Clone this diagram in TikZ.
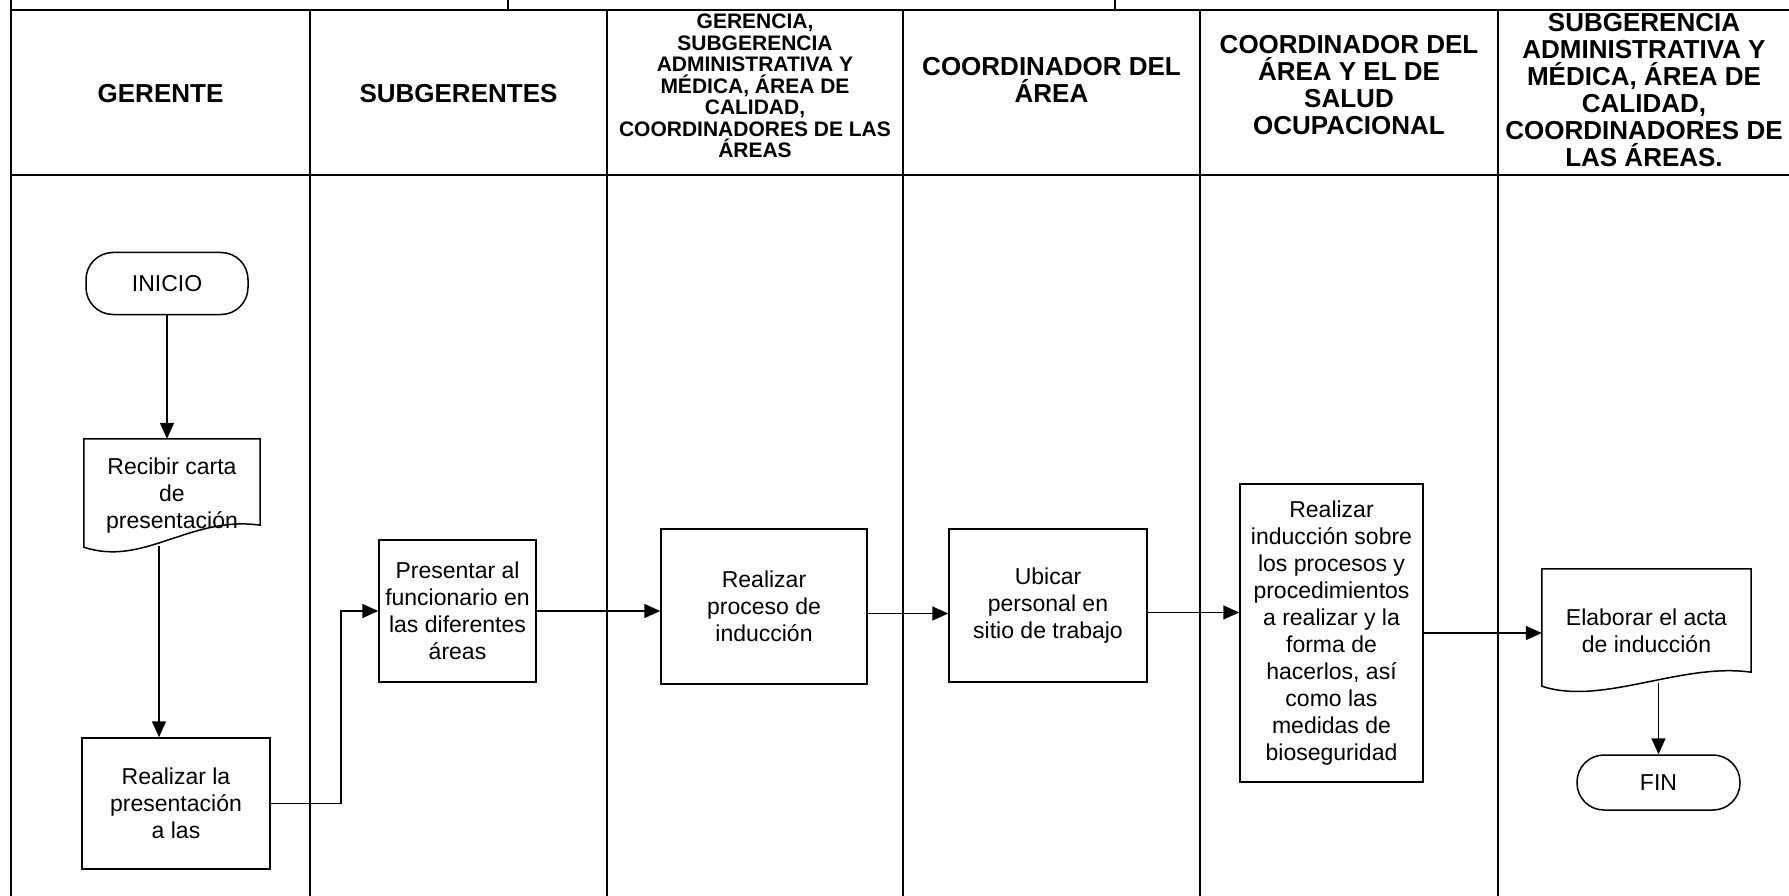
\documentclass[tikz,border=0pt]{standalone}
\usepackage{fontspec}
\setmainfont{Liberation Sans}
\usetikzlibrary{arrows.meta}

\tikzset{
  linea/.style={line width=1.6pt},
  filete/.style={line width=2.4pt},
  encabezado/.style={font=\bfseries\fontsize{26}{27}\selectfont, align=center, inner sep=0pt},
  caja/.style={draw, line width=1.5pt, align=center, inner sep=0pt, font=\fontsize{23}{27}\selectfont},
  terminal/.style={caja, rounded corners=27pt},
  documento/.style={align=center, inner sep=0pt, font=\fontsize{23}{27}\selectfont},
  flecha/.style={line width=1.5pt, -{Triangle[length=16pt,width=14pt]}},
}

% contorno de documento; #2 = altura del lado derecho sobre el fondo
\newcommand{\hoja}[2]{%
  \draw[line width=1.5pt] (#1.north west) -- (#1.north east) -- ([yshift=#2pt]#1.south east)
    .. controls ([xshift=-70pt,yshift=#2pt+10pt]#1.south east) and ([xshift=60pt,yshift=-14pt]#1.south west)
    .. ([yshift=6pt]#1.south west) -- cycle;}

\begin{document}
\begin{tikzpicture}[x=1pt,y=-1pt]
  \useasboundingbox (0,0) rectangle (1789,896);

  % tabla de carriles
  \draw[linea] (11,0) -- (11,896);
  \draw[linea] (508,0) -- (508,10);
  \draw[linea] (1115,0) -- (1115,10);
  \draw[filete] (11,10) -- (1789,10);
  \draw[filete] (11,175) -- (1789,175);
  \foreach \x in {310,607,903,1200,1498}
    \draw[linea] (\x,10) -- (\x,896);

  % encabezados
  \node[encabezado] (gerente) at (160.5,94) {GERENTE};
  \node[encabezado] (subgerentes) at (458.5,94) {SUBGERENTES};
  \node[encabezado, font=\bfseries\fontsize{21}{21.5}\selectfont] (gerencia) at (755,86)
    {GERENCIA,\\SUBGERENCIA\\ADMINISTRATIVA Y\\MÉDICA, ÁREA DE\\CALIDAD,\\COORDINADORES DE LAS\\ÁREAS};
  \node[encabezado] (coordinador) at (1051.5,80) {COORDINADOR DEL\\ÁREA};
  \node[encabezado] (salud) at (1349,85) {COORDINADOR DEL\\ÁREA Y EL DE\\SALUD\\OCUPACIONAL};
  \node[encabezado] (calidad) at (1644,90)
    {SUBGERENCIA\\ADMINISTRATIVA Y\\MÉDICA, ÁREA DE\\CALIDAD,\\COORDINADORES DE\\LAS ÁREAS.};

  % pasos
  \node[terminal, minimum width=162pt, minimum height=62pt] (inicio) at (167,283.5) {INICIO};
  \node[documento, minimum width=176pt, minimum height=114pt] (recibir) at (172,496)
    {Recibir carta\\de\\presentación};
  \hoja{recibir}{28}
  \node[caja, minimum width=188pt, minimum height=131pt] (realizarla) at (176,803.5)
    {Realizar la\\presentación\\a las};
  \node[caja, minimum width=157pt, minimum height=142pt] (presentar) at (457.5,611)
    {Presentar al\\funcionario en\\las diferentes\\áreas};
  \node[caja, minimum width=206pt, minimum height=155pt] (proceso) at (764,606.5)
    {Realizar\\proceso de\\inducción};
  \node[caja, minimum width=198pt, minimum height=153pt] (ubicar) at (1048,605.5)
    {Ubicar\\personal en\\sitio de trabajo};
  \node[caja, minimum width=183pt, minimum height=298pt] (induccion) at (1331.5,633)
    {Realizar\\inducción sobre\\los procesos y\\procedimientos\\a realizar y la\\forma de\\hacerlos, así\\como las\\medidas de\\bioseguridad};
  \node[documento, minimum width=209pt, minimum height=123pt] (acta) at (1646.5,630.5)
    {Elaborar el acta\\de inducción};
  \hoja{acta}{20}
  \node[terminal, minimum width=163pt, minimum height=55pt] (fin) at (1658.5,782.5) {FIN};

  \coordinate (recibirbase) at ([xshift=-13pt,yshift=7pt]recibir.south);
  \coordinate (actabase) at ([xshift=12pt,yshift=9pt]acta.south);
  \coordinate (procesosal) at ([yshift=-7pt]proceso.east);
  \coordinate (ubicarsal) at ([yshift=-7pt]ubicar.east);

  % flechas
  \draw[flecha] (inicio.south) -- (inicio.south |- recibir.north);
  \draw[flecha] (recibirbase) -- (recibirbase |- realizarla.north);
  \draw[flecha] (realizarla.east) -- ++(70,0) |- (presentar.west);
  \draw[flecha] (presentar.east) -- (presentar.east -| proceso.west);
  \draw[flecha] (procesosal) -- (procesosal -| ubicar.west);
  \draw[flecha] (ubicarsal) -- (ubicarsal -| induccion.west);
  \draw[flecha] (induccion.east) -- (induccion.east -| acta.west);
  \draw[flecha] (actabase) -- (fin.north);
\end{tikzpicture}
\end{document}
